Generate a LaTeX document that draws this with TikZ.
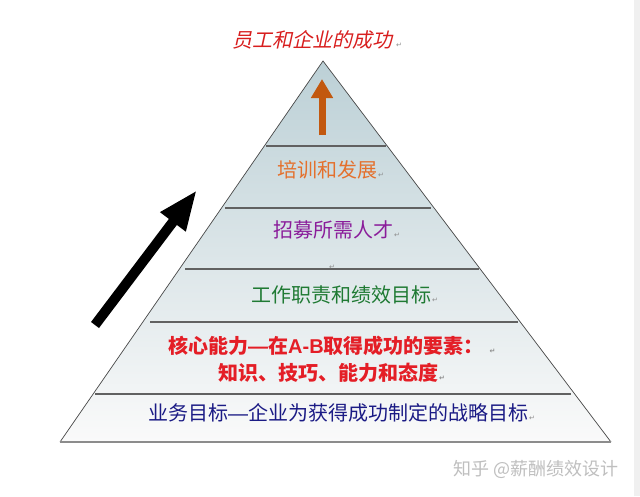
\documentclass[tikz,border=0pt]{standalone}
\usepackage{fontspec}
\setmainfont{Liberation Sans}
\newfontfamily\cjk{Noto Sans CJK SC}
\newfontfamily\cjkit[FakeSlant=0.22]{Noto Sans CJK SC}
\newfontfamily\latb{Liberation Sans}
\newfontfamily\symf{DejaVu Sans}
\usetikzlibrary{arrows.meta,calc}
\definecolor{titlered}{HTML}{D81E1E}
\definecolor{orangetxt}{HTML}{E4702C}
\definecolor{orangearr}{HTML}{C2580F}
\definecolor{purpletxt}{HTML}{8A1C9A}
\definecolor{greentxt}{HTML}{1F7A33}
\definecolor{redtxt}{HTML}{E41E26}
\definecolor{navytxt}{HTML}{1B1B85}
\definecolor{pyrtop}{HTML}{BCD0D6}
\definecolor{pyrmid}{HTML}{DDE6E9}
\definecolor{pyrbot}{HTML}{FAFAFA}
\newcommand\retmark{{\symf\fontsize{7pt}{8pt}\selectfont\color{black!45}↵}}
\begin{document}
\begin{tikzpicture}[x=1pt,y=-1pt,
  lbl/.style={inner sep=0pt, anchor=west, font=\cjk\fontsize{20pt}{24pt}\selectfont},
  bandline/.style={draw=black!62, line width=1.1pt},
  pyredge/.style={draw=black!72, line width=0.7pt}]
\useasboundingbox (0,0) rectangle (640,496);
\fill[white] (0,0) rectangle (640,496);
\fill[black!6] (634,0) rectangle (640,496);
% pyramid
\coordinate (apex) at (323,61);
\coordinate (bl) at (60,442);
\coordinate (br) at (611,442);
\shade[top color=pyrtop, middle color=pyrmid, bottom color=pyrbot] (apex) -- (bl) -- (br) -- cycle;
% band lines
\coordinate (b1l) at (266,146); \coordinate (b1r) at (386,146);
\coordinate (b2l) at (225,208); \coordinate (b2r) at (431,208);
\coordinate (b3l) at (185,269); \coordinate (b3r) at (479,269);
\coordinate (b4l) at (150,322); \coordinate (b4r) at (518,322);
\coordinate (b5l) at (95,394);  \coordinate (b5r) at (571,394);
\foreach \n in {1,...,5}{\draw[bandline] (b\n l) -- (b\n r);}
\draw[pyredge] (bl) -- (apex) -- (br);
\draw[draw=black!45, line width=1.6pt] (bl) -- (br);
% arrows
\coordinate (otail) at (322,135); \coordinate (ohead) at (322,79);
\draw[draw=orangearr, fill=orangearr, line width=7pt, -{Triangle[length=19pt,width=21pt]}] (otail) -- (ohead);
\coordinate (btail) at (95,325); \coordinate (bhead) at (197,190);
\draw[line width=10pt, -{Triangle[length=40pt,width=29pt]}] (btail) -- (bhead);
% texts
\node[lbl, font=\cjkit\fontsize{20pt}{24pt}\selectfont, text=titlered] (title) at (232,40) {员工和企业的成功\hspace{4pt}\retmark};
\node[lbl, text=orangetxt] (t1) at (277,170) {培训和发展\hspace{1pt}\retmark};
\node[lbl, text=purpletxt] (t2) at (273,230) {招募所需人才\hspace{1pt}\retmark};
\node[inner sep=0pt] (m1) at (332,267) {\retmark};
\node[lbl, text=greentxt] (t3) at (251,295) {工作职责和绩效目标\hspace{1pt}\retmark};
\node[lbl, text=redtxt, font=\cjk\bfseries\fontsize{20pt}{24pt}\selectfont] (t4a) at (168,346) {核心能力{\latb\bfseries —}在{\latb\bfseries A-B}取得成功的要素：\hspace{6pt}\retmark};
\node[lbl, text=redtxt, font=\cjk\bfseries\fontsize{20pt}{24pt}\selectfont] (t4b) at (218,373) {知识、技巧、能力和态度\hspace{1pt}\retmark};
\node[lbl, text=navytxt] (t5) at (148,413) {业务目标{\latb —}企业为获得成功制定的战略目标\hspace{1pt}\retmark};
\node[lbl, text=black!25, font=\cjk\fontsize{18pt}{22pt}\selectfont] (wm) at (453,469) {知乎 @薪酬绩效设计};
\end{tikzpicture}
\end{document}
